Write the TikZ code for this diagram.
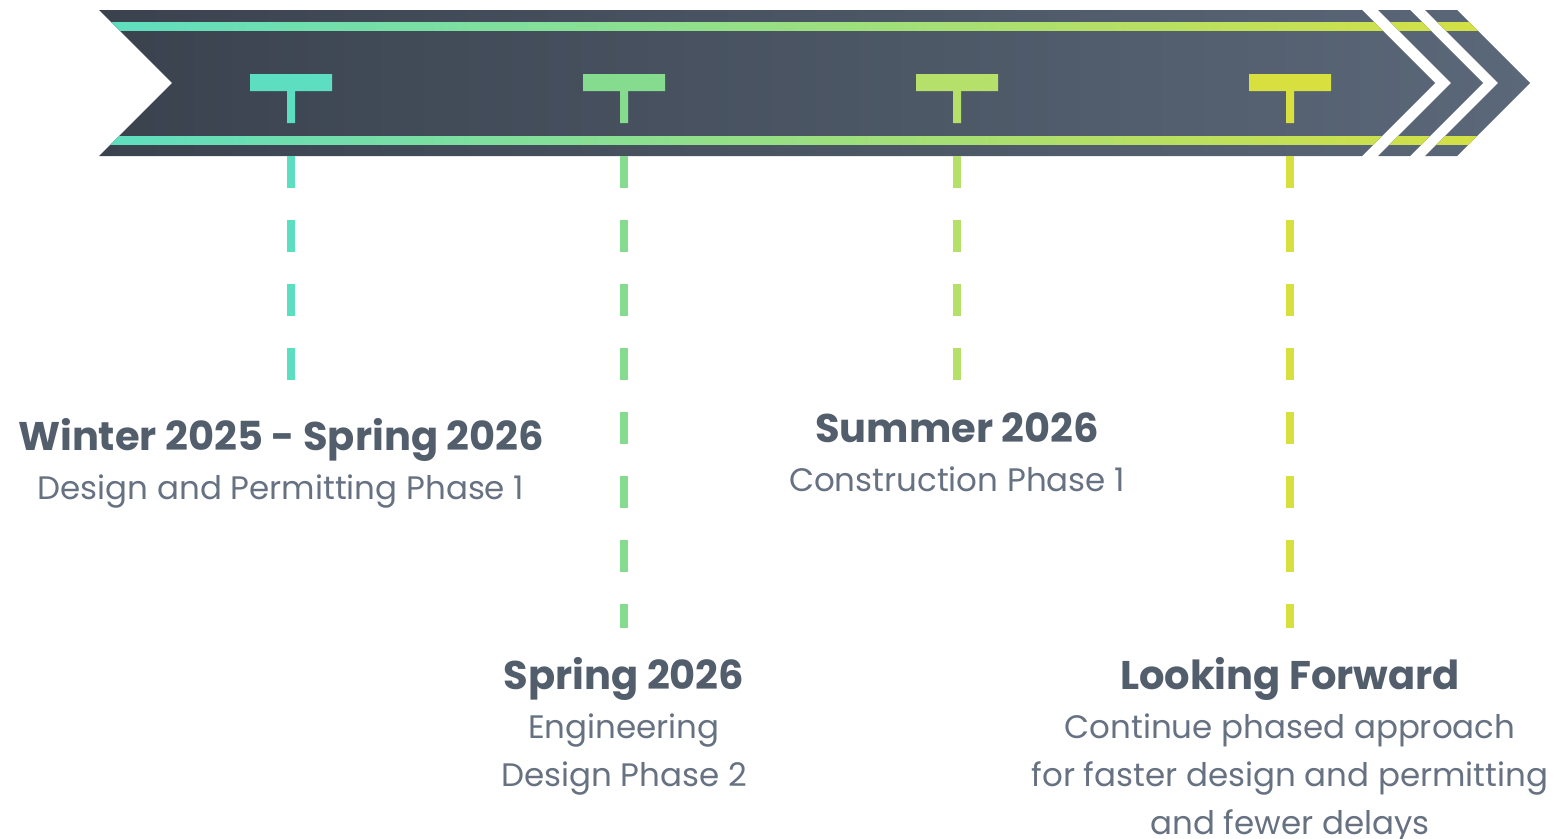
\documentclass[tikz,border=0pt]{standalone}
\usepackage{fontspec}
\setmainfont{Poppins}
\usepackage{tikz}
\usepackage{xcolor}
\usetikzlibrary{calc}
\usetikzlibrary{positioning}
\definecolor{bandL}{HTML}{3A424E}
\definecolor{bandR}{HTML}{5B6879}
\definecolor{tealA}{HTML}{5EDEC0}
\definecolor{greenB}{HTML}{86DC8E}
\definecolor{limeC}{HTML}{B5E06A}
\definecolor{yellowD}{HTML}{D8E040}
\definecolor{headC}{HTML}{535E6D}
\definecolor{bodyC}{HTML}{667182}
\tikzset{
  Head/.style={text=headC, font=\fontsize{40}{44}\selectfont\bfseries,
    inner sep=0pt, anchor=base},
  Body/.style={text=bodyC, font=\fontsize{32.5}{48}\selectfont,
    inner sep=0pt, align=center},
  Dashline/.style={line width=8pt, dash pattern=on 32pt off 32pt}
}

\begin{document}
\begin{tikzpicture}[x=1pt,y=-1pt]
      \useasboundingbox (0,0) rectangle (1568,838);
      \begin{scope}
        \clip (99,10) -- (1362,10) -- (1435,83) -- (1362,156) -- (99,156) -- (172,83) -- cycle
              (1378,10) -- (1410,10) -- (1483,83) -- (1410,156) -- (1378,156) -- (1451,83) -- cycle
              (1425,10) -- (1457,10) -- (1530,83) -- (1457,156) -- (1425,156) -- (1498,83) -- cycle;
        \shade[left color=bandL, right color=bandR] (99,10) rectangle (1530,156);
        \shade[left color=tealA, right color=yellowD] (99,22) rectangle (1530,30);
        \shade[left color=tealA, right color=yellowD] (99,136) rectangle (1530,144);
      \end{scope}
      \fill[tealA] (250,74) rectangle (332,91) (287,91) rectangle (295,123);
      \fill[greenB] (583,74) rectangle (665,91) (620,91) rectangle (628,123);
      \fill[limeC] (916,74) rectangle (998,91) (953,91) rectangle (961,123);
      \fill[yellowD] (1249,74) rectangle (1331,91) (1286,91) rectangle (1294,123);
      \coordinate (m1) at (291,156);
      \coordinate (m2) at (624,156);
      \coordinate (m3) at (957,156);
      \coordinate (m4) at (1290,156);
      \coordinate (e1) at (291,380);
      \coordinate (e2) at (624,628);
      \coordinate (e3) at (957,380);
      \coordinate (e4) at (1290,628);
      \draw[Dashline, tealA] (m1) -- (e1);
      \draw[Dashline, greenB] (m2) -- (e2);
      \draw[Dashline, limeC] (m3) -- (e3);
      \draw[Dashline, yellowD] (m4) -- (e4);
      \node[Head] (h1) at (281,450) {Winter 2025 - Spring 2026};
      \node[Body, below=49pt of h1.base, anchor=base] (d1) {Design and Permitting Phase 1};
      \node[Head] (h3) at (957,442) {Summer 2026};
      \node[Body, below=49pt of h3.base, anchor=base] (d3) {Construction Phase 1};
      \node[Head] (h2) at (624,689) {Spring 2026};
      \node[Body, below=97pt of h2.base, anchor=base] (d2) {Engineering\\Design Phase 2};
      \node[Head] (h4) at (1290,689) {Looking Forward};
      \node[Body, below=145pt of h4.base, anchor=base] (d4) {Continue phased approach\\for faster design and permitting\\and fewer delays};
\end{tikzpicture}
\end{document}
